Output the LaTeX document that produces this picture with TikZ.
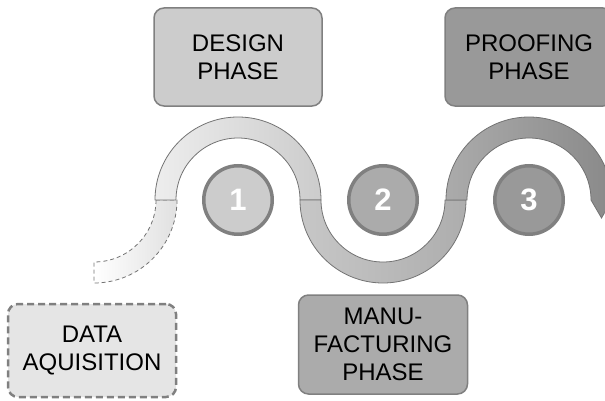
\documentclass[tikz,border=0pt]{standalone}
\usepackage{fontspec}
\setmainfont{Liberation Sans}
\definecolor{boxline}{gray}{0.5}
\definecolor{bandline}{gray}{0.45}
\begin{document}
\begin{tikzpicture}[x=1pt,y=1pt,
  phase/.style={draw=boxline,line width=1.5pt,rounded corners=10pt,minimum width=168pt,minimum height=98pt,align=center,font=\fontsize{24}{28}\selectfont},
  stepdot/.style={circle,draw=boxline,line width=3.5pt,minimum size=68.5pt,inner sep=0pt,text=white,font=\fontsize{31}{31}\selectfont\bfseries},
  band/.style={draw=bandline,line width=0.8pt}]
\useasboundingbox (0,0) rectangle (605,400);
\clip (0,0) rectangle (605,400);
\shadedraw[band,dashed,dash pattern=on 4pt off 3pt,left color=white,right color=black!12]
  (156,200) arc (0:-90:62) -- (94,117) arc (-90:0:83) -- cycle;
\shadedraw[band,left color=black!7,right color=black!20]
  (155,200) arc (180:0:83) -- (300,200) arc (0:180:62) -- cycle;
\shadedraw[band,left color=black!22,right color=black!32]
  (321,200) arc (180:360:62) -- (466,200) arc (360:180:83) -- cycle;
\shadedraw[band,left color=black!33,right color=black!46]
  (446,200) arc (180:0:83) -- (601.5,182) -- (591,200) arc (0:180:62) -- cycle;
\node[stepdot,fill=black!20] (one) at (238,200) {1};
\node[stepdot,fill=black!33] (two) at (383,200) {2};
\node[stepdot,fill=black!40] (three) at (529,200) {3};
\node[phase,fill=black!20] (design) at (238,343) {DESIGN\\PHASE};
\node[phase,fill=black!40] (proofing) at (529,343) {PROOFING\\PHASE};
\node[phase,fill=black!33,minimum width=169pt,minimum height=99pt] (manufacturing) at (383,55.5) {MANU-\\FACTURING\\PHASE};
\node[phase,fill=black!10,dashed,dash pattern=on 7pt off 4pt,line width=2.5pt,minimum height=93pt] (data) at (92,49.5) {DATA\\AQUISITION};
\end{tikzpicture}
\end{document}
